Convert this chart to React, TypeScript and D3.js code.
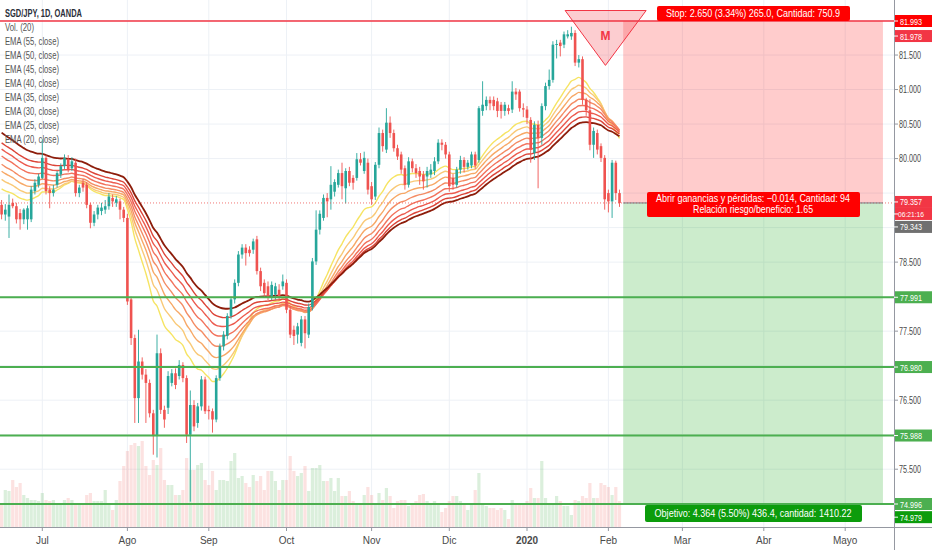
import * as d3 from 'd3'

const WIDTH = 932
const HEIGHT = 550
const PLOT_RIGHT = 894
const TIME_AXIS_Y = 527
const FONT = "'Liberation Sans Narrow', 'Liberation Sans', Arial, sans-serif"

// daily SGD/JPY bars: [open, high, low, close]
const candles: [number, number, number, number][] = [
  [79.33, 79.40, 79.12, 79.19], [79.19, 79.34, 79.10, 79.26], [79.16, 79.48, 78.85, 79.33], [79.36, 79.42, 79.28, 79.31],
  [79.31, 79.36, 79.06, 79.12], [79.21, 79.27, 78.97, 79.12], [79.12, 79.28, 79.05, 79.26], [79.12, 79.32, 78.97, 79.28],
  [79.12, 79.60, 79.08, 79.55], [79.53, 79.70, 79.48, 79.65], [79.62, 79.78, 79.58, 79.74], [79.72, 80.28, 79.70, 80.01],
  [80.01, 80.05, 79.48, 79.53], [79.55, 79.60, 79.28, 79.50], [79.50, 79.62, 79.45, 79.55], [79.62, 79.82, 79.58, 79.79],
  [79.77, 79.93, 79.72, 79.89], [79.89, 80.06, 79.85, 80.01], [79.99, 80.05, 79.80, 79.84], [79.86, 80.02, 79.82, 79.96],
  [79.94, 80.00, 79.45, 79.50], [79.50, 79.62, 79.44, 79.58], [79.65, 79.70, 79.52, 79.58], [79.62, 79.66, 79.28, 79.33],
  [79.33, 79.36, 78.99, 79.07], [79.07, 79.24, 79.02, 79.19], [79.19, 79.33, 79.12, 79.29], [79.24, 79.36, 79.18, 79.29],
  [79.26, 79.40, 79.20, 79.31], [79.31, 79.50, 79.26, 79.45], [79.43, 79.48, 79.30, 79.38], [79.36, 79.46, 79.30, 79.41],
  [79.38, 79.42, 79.12, 79.26], [79.26, 79.30, 79.08, 79.14], [79.14, 79.20, 77.88, 77.93], [77.96, 78.00, 77.30, 77.40],
  [77.40, 77.45, 76.17, 76.53], [76.53, 77.52, 76.17, 77.06], [77.06, 77.12, 76.80, 76.87], [76.87, 76.95, 76.17, 76.75],
  [76.75, 76.80, 76.25, 76.31], [76.31, 76.36, 75.71, 75.98], [75.98, 77.45, 75.67, 77.18], [77.18, 77.25, 76.30, 76.36],
  [76.36, 76.42, 76.10, 76.22], [76.39, 76.92, 76.30, 76.85], [76.75, 76.95, 76.70, 76.89], [76.89, 76.96, 76.66, 76.72],
  [76.85, 77.08, 76.80, 77.01], [77.01, 77.05, 76.76, 76.82], [76.82, 76.86, 75.88, 76.00], [76.00, 76.64, 75.03, 76.43],
  [76.43, 76.50, 76.05, 76.12], [76.17, 76.46, 76.10, 76.41], [76.41, 76.85, 76.35, 76.80], [76.80, 76.84, 76.30, 76.34],
  [76.36, 76.42, 76.22, 76.34], [76.34, 76.38, 76.03, 76.22], [76.22, 76.86, 76.18, 76.82], [76.82, 77.32, 76.78, 77.28],
  [77.28, 77.50, 77.22, 77.45], [77.43, 77.76, 77.38, 77.72], [77.72, 78.00, 77.68, 77.96], [77.96, 78.25, 77.90, 78.20],
  [78.20, 78.66, 78.15, 78.61], [78.61, 78.76, 78.55, 78.71], [78.71, 78.76, 78.45, 78.63], [78.68, 78.73, 78.58, 78.63],
  [78.68, 78.84, 78.62, 78.80], [78.83, 78.88, 78.32, 78.37], [78.37, 78.42, 78.08, 78.15], [78.20, 78.25, 77.98, 78.05],
  [78.15, 78.22, 77.95, 78.00], [78.00, 78.22, 77.95, 78.17], [78.03, 78.20, 77.96, 78.15], [78.10, 78.18, 77.95, 78.00],
  [78.15, 78.32, 78.10, 78.22], [78.20, 78.25, 77.76, 77.81], [77.81, 77.86, 77.40, 77.45], [77.52, 77.58, 77.30, 77.43],
  [77.45, 77.62, 77.32, 77.57], [77.33, 77.72, 77.28, 77.67], [77.67, 77.72, 77.25, 77.47], [77.45, 77.90, 77.40, 77.85],
  [77.85, 78.56, 77.80, 78.51], [78.51, 79.25, 78.46, 78.97], [78.97, 79.25, 78.90, 79.20], [79.14, 79.48, 79.10, 79.43],
  [79.43, 79.50, 79.15, 79.38], [79.41, 79.89, 79.26, 79.62], [79.52, 79.70, 79.45, 79.66], [79.62, 79.84, 79.58, 79.79],
  [79.79, 79.94, 79.41, 79.60], [79.57, 79.86, 79.35, 79.82], [79.82, 79.88, 79.60, 79.65], [79.72, 79.76, 79.55, 79.65],
  [79.72, 80.08, 79.68, 79.99], [79.99, 80.08, 79.90, 79.94], [79.82, 80.10, 79.78, 80.01], [79.94, 80.00, 79.48, 79.55],
  [79.60, 79.66, 79.33, 79.41], [79.45, 79.95, 79.40, 79.91], [79.91, 80.45, 79.86, 80.37], [80.37, 80.42, 80.10, 80.18],
  [80.13, 80.73, 80.08, 80.52], [80.52, 80.61, 80.30, 80.37], [80.37, 80.42, 80.10, 80.15], [80.15, 80.20, 79.98, 80.03],
  [80.06, 80.10, 79.78, 79.84], [79.86, 79.90, 79.55, 79.62], [79.62, 80.02, 79.58, 79.96], [79.96, 80.00, 79.80, 79.86],
  [79.86, 79.92, 79.72, 79.79], [79.82, 79.88, 79.62, 79.74], [79.77, 79.82, 79.55, 79.67], [79.74, 79.88, 79.58, 79.82],
  [79.77, 79.92, 79.72, 79.84], [79.82, 80.02, 79.76, 79.96], [79.96, 80.28, 79.92, 80.23], [80.23, 80.28, 80.12, 80.20],
  [80.20, 80.24, 80.00, 80.06], [80.06, 80.10, 79.52, 79.60], [79.72, 79.78, 79.55, 79.62], [79.62, 79.88, 79.58, 79.84],
  [79.84, 80.04, 79.78, 79.98], [79.98, 80.02, 79.80, 79.88], [79.88, 79.98, 79.84, 79.94], [79.90, 80.10, 79.86, 80.06],
  [80.06, 80.10, 79.85, 79.90], [79.98, 80.76, 79.94, 80.73], [80.69, 81.12, 80.62, 80.78], [80.76, 80.90, 80.70, 80.85],
  [80.85, 80.90, 80.70, 80.80], [80.85, 80.90, 80.70, 80.76], [80.83, 80.88, 80.60, 80.69], [80.78, 80.82, 80.58, 80.69],
  [80.69, 80.82, 80.62, 80.78], [80.73, 80.78, 80.64, 80.69], [80.71, 81.12, 80.66, 80.97], [80.97, 81.02, 80.85, 80.93],
  [80.97, 81.00, 80.68, 80.73], [80.73, 80.80, 80.60, 80.71], [80.71, 80.76, 80.50, 80.59], [80.56, 80.60, 79.94, 80.13],
  [80.08, 80.54, 79.98, 80.49], [80.49, 80.55, 79.57, 80.30], [80.30, 80.80, 80.20, 80.76], [80.76, 81.10, 80.70, 81.05],
  [81.05, 81.29, 81.00, 81.14], [81.14, 81.70, 81.10, 81.65], [81.65, 81.72, 81.45, 81.66], [81.68, 81.72, 81.48, 81.63],
  [81.65, 81.84, 81.60, 81.80], [81.77, 81.86, 81.74, 81.80], [81.77, 81.91, 81.72, 81.82], [81.82, 81.86, 81.34, 81.39],
  [81.39, 81.50, 81.32, 81.44], [81.44, 81.48, 80.78, 80.85], [80.85, 80.88, 80.62, 80.70], [80.70, 80.86, 80.12, 80.20],
  [80.20, 80.45, 80.01, 80.40], [80.37, 80.42, 80.06, 80.13], [80.18, 80.22, 79.95, 80.01], [80.01, 80.05, 79.26, 79.41],
  [79.50, 79.55, 79.22, 79.38], [79.38, 79.98, 79.14, 79.94], [79.94, 79.97, 79.40, 79.50], [79.50, 79.55, 79.30, 79.357],
]

const volumes = [
  24, 37, 36, 47, 40, 44, 32, 29, 27, 27, 26, 34, 27, 26, 27, 22, 22, 27, 29, 27,
  22, 22, 22, 32, 34, 26, 26, 26, 37, 22, 17, 27, 46, 61, 76, 82, 84, 81, 86, 61,
  52, 67, 62, 79, 47, 42, 42, 32, 32, 37, 69, 57, 57, 62, 64, 47, 42, 56, 37, 47,
  47, 46, 66, 74, 49, 51, 44, 40, 52, 46, 51, 37, 56, 56, 46, 37, 47, 47, 71, 56,
  51, 54, 61, 36, 59, 59, 62, 46, 46, 49, 36, 49, 31, 31, 36, 26, 22, 22, 32, 40,
  32, 22, 34, 27, 39, 31, 19, 26, 27, 27, 21, 24, 26, 32, 33, 26, 22, 26, 22, 15,
  19, 26, 31, 31, 26, 22, 17, 22, 37, 54, 22, 21, 19, 19, 17, 19, 17, 8, 27, 22,
  22, 22, 26, 39, 29, 29, 66, 29, 22, 22, 31, 26, 21, 21, 12, 27, 26, 31, 29, 44,
  29, 29, 44, 42, 40, 32, 40, 26,
]

const emaLengths = [20, 25, 30, 35, 40, 45, 50, 55]
// EMA values just before the first visible bar
const emaSeeds = [79.6, 79.74, 79.86, 79.96, 80.08, 80.18, 80.27, 80.42]
const emaColors = ['#f6e463', '#f9c977', '#f7a866', '#f48c64', '#f2725c', '#ec5b4f', '#dc4438', '#8d1d0b']

const monthLabels = ['Jul', 'Ago', 'Sep', 'Oct', 'Nov', 'Dic', '2020', 'Feb', 'Mar', 'Abr', 'Mayo']
const monthBars = [11, 34, 56, 77, 100, 121, 142, 164, 184, 206, 228]

const priceTicks = [75, 75.5, 76, 76.5, 77, 77.5, 78, 78.5, 79, 79.5, 80, 80.5, 81, 81.5, 82]
const supportLevels = [77.991, 76.98, 75.988, 74.996]

const stopPrice = 81.993
const entryPrice = 79.357
const targetPrice = 74.996
const toolBars = [168, 238.2]

const legendItems = ['Vol. (20)', ...emaLengths.slice().reverse().map(n => `EMA (${n}, close)`)]

export default function App() {
  const x = d3.scaleLinear().domain([0, 228]).range([1.6, 845.2])
  const y = d3.scaleLinear().domain([targetPrice, stopPrice]).range([504, 21])
  const vy = d3.scaleLinear().domain([0, 100]).range([TIME_AXIS_Y, TIME_AXIS_Y - 100])

  const closes = candles.map(c => c[3])
  const emas = emaLengths.map((n, k) => {
    const a = 2 / (n + 1)
    let prev = emaSeeds[k]
    return closes.map(c => (prev = a * c + (1 - a) * prev))
  })
  const line = d3.line<number>().x((_, i) => x(i)).y(v => y(v)).curve(d3.curveMonotoneX)

  const bodyW = 2.6
  const toolX0 = x(toolBars[0])
  const toolX1 = x(toolBars[1])
  const toolMid = (toolX0 + toolX1) / 2

  const tri = [[152.3, 82.145], [174.2, 82.145], [163.2, 81.35]]
    .map(([b, p]) => `${x(b)},${y(p)}`).join(' ')

  const axisBoxes = [
    { text: '81.993', cy: y(81.993), fill: '#ff0000' },
    { text: '81.978', cy: y(81.978) + 14, fill: '#f23645' },
    { text: '79.357', cy: y(79.357) - 1, fill: '#f23645' },
    { text: '06:21:16', cy: y(79.357) + 11, fill: '#f23645' },
    { text: '79.343', cy: y(79.343) + 23, fill: '#707070' },
    { text: '77.991', cy: y(77.991), fill: '#4caf50' },
    { text: '76.980', cy: y(76.98), fill: '#4caf50' },
    { text: '75.988', cy: y(75.988), fill: '#4caf50' },
    { text: '74.996', cy: y(74.996), fill: '#4caf50' },
    { text: '74.979', cy: y(74.979) + 12, fill: '#0c9c0c' },
  ]
  // tick labels hidden behind the coloured price boxes
  const visibleTicks = priceTicks.filter(p => axisBoxes.every(b => Math.abs(b.cy - y(p)) >= 9))

  return (
    <svg width={WIDTH} height={HEIGHT} style={{ position: 'absolute', left: 0, top: 0, background: '#fff' }}
      fontFamily={FONT}>
      {/* grid */}
      <g stroke="#edf1f6" strokeWidth={1}>
        {priceTicks.map(p => <line key={p} x1={0} x2={PLOT_RIGHT} y1={y(p)} y2={y(p)} />)}
        {monthBars.map(b => <line key={b} x1={x(b)} x2={x(b)} y1={0} y2={TIME_AXIS_Y} />)}
      </g>

      {/* volume */}
      {volumes.map((v, i) => {
        const c = candles[i]
        const up = c[3] >= c[0]
        return <rect key={i} x={x(i) - 1.6} width={3.2} y={vy(v)} height={TIME_AXIS_Y - vy(v)}
          fill={up ? '#4caf50' : '#ef5350'} fillOpacity={up ? 0.2 : 0.17} />
      })}

      {/* position tool */}
      <rect x={toolX0} width={toolX1 - toolX0} y={y(stopPrice)} height={y(entryPrice) - y(stopPrice)}
        fill="#ff0000" fillOpacity={0.2} />
      <rect x={toolX0} width={toolX1 - toolX0} y={y(entryPrice)} height={y(targetPrice) - y(entryPrice)}
        fill="#00a000" fillOpacity={0.2} />

      {/* EMA ribbon */}
      {emas.map((e, k) => (
        <path key={k} d={line(e) || ''} fill="none" stroke={emaColors[k]} strokeWidth={k === 7 ? 1.8 : 1.4} />
      ))}

      {/* candles */}
      {candles.map(([o, h, l, c], i) => {
        const col = c >= o ? '#26a69a' : '#ef5350'
        const top = y(Math.max(o, c))
        const bh = Math.max(1, Math.abs(y(o) - y(c)))
        return (
          <g key={i}>
            <line x1={x(i)} x2={x(i)} y1={y(h)} y2={y(l)} stroke={col} strokeWidth={0.9} />
            <rect x={x(i) - bodyW / 2} width={bodyW} y={top} height={bh} fill={col} />
          </g>
        )
      })}

      {/* horizontal levels */}
      {supportLevels.map(p => (
        <line key={p} x1={0} x2={PLOT_RIGHT} y1={y(p)} y2={y(p)} stroke="#4caf50" strokeWidth={2} />
      ))}
      <line x1={0} x2={PLOT_RIGHT} y1={y(stopPrice)} y2={y(stopPrice)} stroke="#f23645" strokeWidth={1.6} />
      <line x1={0} x2={PLOT_RIGHT} y1={y(entryPrice)} y2={y(entryPrice)} stroke="#ef5350" strokeWidth={0.8}
        strokeDasharray="1,2" />
      <line x1={toolX0} x2={toolX1} y1={y(entryPrice)} y2={y(entryPrice)} stroke="#787b86" strokeWidth={1} />

      {/* M triangle */}
      <polygon points={tri} fill="#f23645" fillOpacity={0.25} stroke="#f23645" strokeWidth={1} />
      <text x={x(163.2)} y={y(81.77) + 4} textAnchor="middle" fontSize={12} fontWeight="bold" fill="#f23645">M</text>

      {/* position labels */}
      <rect x={657} y={6} width={193} height={15} rx={2} fill="#ff0000" />
      <text x={toolMid} y={17} textAnchor="middle" fontSize={10.5} fill="#fff" textLength={174}
        lengthAdjust="spacingAndGlyphs">Stop: 2.650 (3.34%) 265.0, Cantidad: 750.9</text>

      <rect x={647} y={y(entryPrice) - 11} width={213} height={25} rx={2} fill="#ff0000" />
      <text x={toolMid} y={y(entryPrice) - 0.5} textAnchor="middle" fontSize={10.5} fill="#fff" textLength={194}
        lengthAdjust="spacingAndGlyphs">Abrir ganancias y pérdidas: −0.014, Cantidad: 94</text>
      <text x={toolMid} y={y(entryPrice) + 10} textAnchor="middle" fontSize={10.5} fill="#fff" textLength={120}
        lengthAdjust="spacingAndGlyphs">Relación riesgo/beneficio: 1.65</text>

      <rect x={645} y={y(targetPrice) + 1} width={217} height={17} rx={2} fill="#0c9c0c" />
      <text x={toolMid} y={y(targetPrice) + 13} textAnchor="middle" fontSize={10.5} fill="#fff" textLength={197}
        lengthAdjust="spacingAndGlyphs">Objetivo: 4.364 (5.50%) 436.4, cantidad: 1410.22</text>

      {/* legend */}
      <text x={5} y={17} fontSize={10.5} fontWeight="bold" fill="#2a2e39" textLength={77}
        lengthAdjust="spacingAndGlyphs">SGD/JPY, 1D, OANDA</text>
      {legendItems.map((t, i) => (
        <text key={t} x={5} y={31 + i * 14} fontSize={10.5} fill="#555" textLength={i === 0 ? 29 : 54}
          lengthAdjust="spacingAndGlyphs">{t}</text>
      ))}

      {/* price axis */}
      <rect x={PLOT_RIGHT} y={0} width={WIDTH - PLOT_RIGHT} height={HEIGHT} fill="#fff" />
      <line x1={PLOT_RIGHT + 0.5} x2={PLOT_RIGHT + 0.5} y1={0} y2={HEIGHT} stroke="#9598a1" />
      {visibleTicks.map(p => (
        <g key={p}>
          <line x1={PLOT_RIGHT} x2={PLOT_RIGHT + 4} y1={y(p)} y2={y(p)} stroke="#9598a1" />
          <text x={PLOT_RIGHT + 5} y={y(p) + 3.5} fontSize={10} fill="#4a4a4a" textLength={22}
            lengthAdjust="spacingAndGlyphs">{p.toFixed(3)}</text>
        </g>
      ))}
      {axisBoxes.map(b => {
        const long = b.text.length > 6
        return (
          <g key={b.text}>
            <rect x={PLOT_RIGHT + 1} y={b.cy - 6} width={WIDTH - PLOT_RIGHT - 1} height={12} fill={b.fill} />
            <line x1={PLOT_RIGHT} x2={PLOT_RIGHT + 4} y1={b.cy} y2={b.cy} stroke="#fff" />
            <text x={PLOT_RIGHT + (long ? 4 : 6)} y={b.cy + 3.5} fontSize={long ? 8 : 9.5} fill="#fff"
              textLength={long ? 26 : 22} lengthAdjust="spacingAndGlyphs">{b.text}</text>
          </g>
        )
      })}

      {/* time axis */}
      <line x1={0} x2={WIDTH} y1={TIME_AXIS_Y + 0.5} y2={TIME_AXIS_Y + 0.5} stroke="#9598a1" />
      {monthBars.map((b, i) => (
        <g key={b}>
          <line x1={x(b)} x2={x(b)} y1={TIME_AXIS_Y} y2={TIME_AXIS_Y + 4} stroke="#9598a1" />
          <text x={x(b)} y={TIME_AXIS_Y + 17} textAnchor="middle" fontSize={10}
            fontWeight={monthLabels[i] === '2020' ? 'bold' : 'normal'} fill="#4a4a4a">{monthLabels[i]}</text>
        </g>
      ))}
    </svg>
  )
}
